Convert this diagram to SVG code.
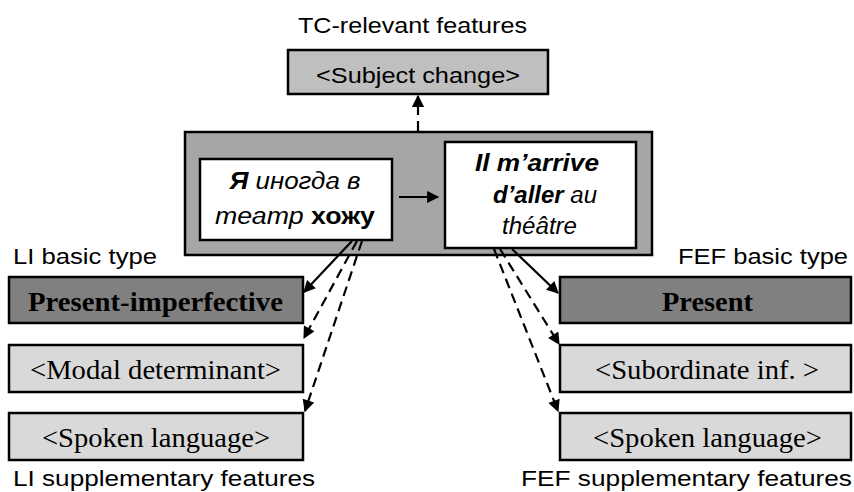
<svg xmlns="http://www.w3.org/2000/svg" width="854" height="492" viewBox="0 0 854 492">
  <style>
    .lbl { font-family: "Liberation Sans", Arial, sans-serif; font-size: 22px; fill: #000; }
    .box { stroke: #000; stroke-width: 2.5; }
    .btxt { font-family: "Liberation Serif", "Times New Roman", serif; font-size: 26.5px; fill: #000; text-anchor: middle; }
    .stxt { font-family: "Liberation Sans", Arial, sans-serif; font-size: 23.5px; font-style: italic; fill: #000; text-anchor: middle; }
    .conn { stroke: #000; stroke-width: 2.2; fill: none; marker-end: url(#ah); }
    .dash { stroke-dasharray: 10 6; }
  </style>
  <defs>
    <marker id="ah" viewBox="0 0 10 10" refX="9" refY="5" markerWidth="6.5" markerHeight="5.5" orient="auto" markerUnits="strokeWidth">
      <path d="M0,0 L10,5 L0,10 z" fill="#000"/>
    </marker>
  </defs>

  <rect width="854" height="492" fill="#fff"/>

  <!-- top feature -->
  <text class="lbl" x="298" y="33" textLength="229" lengthAdjust="spacingAndGlyphs">TC-relevant features</text>
  <g id="subject-change">
    <rect class="box" x="288" y="50" width="260" height="44" fill="#bfbfbf"/>
    <text class="lbl" x="418" y="83" text-anchor="middle" textLength="204" lengthAdjust="spacingAndGlyphs">&lt;Subject change&gt;</text>
  </g>

  <!-- central pair -->
  <g id="pair">
    <rect class="box" x="185" y="132" width="467" height="123" fill="#a6a6a6"/>
  </g>
  <g id="ru">
    <rect class="box" x="200" y="159" width="192" height="81" fill="#fff"/>
    <text class="stxt" x="295" y="189" textLength="131" lengthAdjust="spacingAndGlyphs"><tspan font-weight="bold">Я</tspan> иногда в</text>
    <text class="stxt" x="295" y="224" textLength="160" lengthAdjust="spacingAndGlyphs">театр <tspan font-weight="bold" font-style="normal">хожу</tspan></text>
  </g>
  <g id="fr">
    <rect class="box" x="445" y="142" width="191" height="106" fill="#fff"/>
    <text class="stxt" x="537" y="171" font-weight="bold" textLength="124" lengthAdjust="spacingAndGlyphs">Il m’arrive</text>
    <text class="stxt" x="545" y="203" textLength="104" lengthAdjust="spacingAndGlyphs"><tspan font-weight="bold">d’aller</tspan> au</text>
    <text class="stxt" x="539.5" y="234" textLength="75" lengthAdjust="spacingAndGlyphs">théâtre</text>
  </g>

  <!-- left column -->
  <text class="lbl" x="13" y="264" textLength="144" lengthAdjust="spacingAndGlyphs">LI basic type</text>
  <g id="li-basic">
    <rect class="box" x="9" y="277" width="294" height="46" fill="#808080"/>
    <text class="btxt" x="155.5" y="311" font-weight="bold" textLength="255" lengthAdjust="spacingAndGlyphs">Present-imperfective</text>
  </g>
  <g id="li-modal">
    <rect class="box" x="9" y="345" width="294" height="47" fill="#d9d9d9"/>
    <text class="btxt" x="155.5" y="379" textLength="251" lengthAdjust="spacingAndGlyphs">&lt;Modal determinant&gt;</text>
  </g>
  <g id="li-spoken">
    <rect class="box" x="9" y="413" width="294" height="47" fill="#d9d9d9"/>
    <text class="btxt" x="156" y="447" textLength="228" lengthAdjust="spacingAndGlyphs">&lt;Spoken language&gt;</text>
  </g>
  <text class="lbl" x="13" y="486" textLength="302" lengthAdjust="spacingAndGlyphs">LI supplementary features</text>

  <!-- right column -->
  <text class="lbl" x="848" y="264" text-anchor="end" textLength="170" lengthAdjust="spacingAndGlyphs">FEF basic type</text>
  <g id="fef-basic">
    <rect class="box" x="560" y="277" width="291" height="46" fill="#808080"/>
    <text class="btxt" x="707.5" y="311" font-weight="bold" textLength="91" lengthAdjust="spacingAndGlyphs">Present</text>
  </g>
  <g id="fef-subinf">
    <rect class="box" x="560" y="345" width="291" height="47" fill="#d9d9d9"/>
    <text class="btxt" x="707" y="379" textLength="224" lengthAdjust="spacingAndGlyphs">&lt;Subordinate inf. &gt;</text>
  </g>
  <g id="fef-spoken">
    <rect class="box" x="560" y="413" width="291" height="47" fill="#d9d9d9"/>
    <text class="btxt" x="707.5" y="447" textLength="229" lengthAdjust="spacingAndGlyphs">&lt;Spoken language&gt;</text>
  </g>
  <text class="lbl" x="852" y="486" text-anchor="end" textLength="331" lengthAdjust="spacingAndGlyphs">FEF supplementary features</text>

  <!-- connectors -->
  <g id="connectors">
    <line class="conn dash" x1="418" y1="131" x2="418" y2="96"/>
    <line class="conn" x1="399" y1="197" x2="438" y2="197"/>
    <line class="conn" x1="352" y1="241" x2="304" y2="292"/>
    <line class="conn dash" x1="357" y1="241" x2="304" y2="338"/>
    <line class="conn dash" x1="362" y1="241" x2="305" y2="411"/>
    <line class="conn" x1="512" y1="249" x2="558" y2="293"/>
    <line class="conn dash" x1="500" y1="249" x2="559" y2="344"/>
    <line class="conn dash" x1="494" y1="249" x2="558" y2="411"/>
  </g>
</svg>
